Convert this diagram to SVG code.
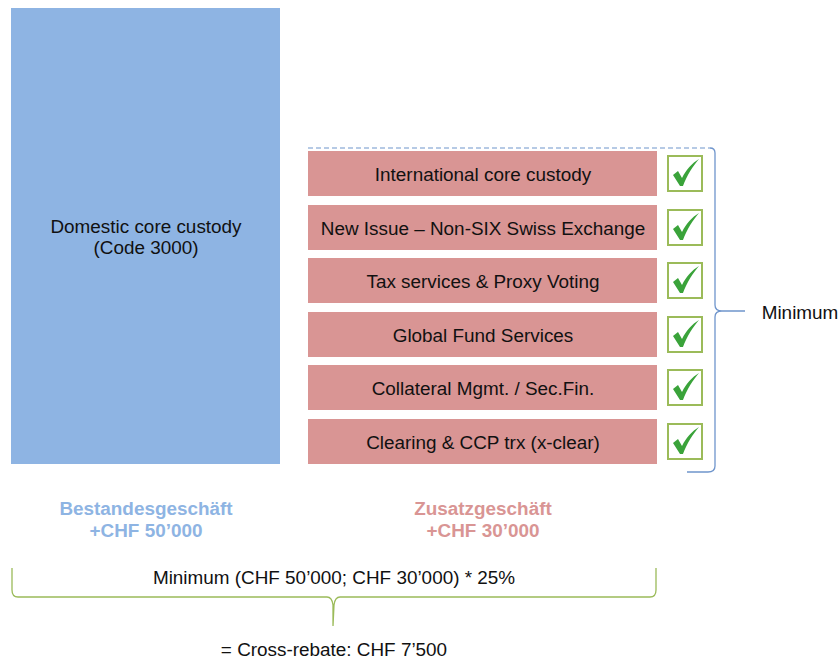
<svg xmlns="http://www.w3.org/2000/svg" width="840" height="661" viewBox="0 0 840 661">
<style>
text{font-family:"Liberation Sans",Arial,sans-serif;font-size:18.9px;fill:#111;text-anchor:middle}
.row{fill:#D99594}
.lbl{dominant-baseline:central}
.chk{fill:#fff;stroke:#9BBB59;stroke-width:2}
.tick{fill:#3AA33A}
.bold{font-weight:bold;font-size:18.9px}
</style>
<defs>
<g id="check">
<rect class="chk" x="0" y="0" width="34" height="35"/>
<path class="tick" d="M5 19 L10 15 L14 22 C18 14 24 7 31 3 C25 10 19 19 15 30 L12 30 Z"/>
</g>
</defs>
<g id="domestic">
<rect x="11" y="8" width="269" height="456" fill="#8EB4E3"/>
<text x="146" y="226" class="lbl">Domestic core custody</text>
<text x="146" y="247" class="lbl">(Code 3000)</text>
</g>
<g id="row1"><rect class="row" x="308" y="151" width="349" height="45"/><text x="483" y="174" class="lbl">International core custody</text><use href="#check" x="668" y="156"/></g>
<g id="row2"><rect class="row" x="308" y="205" width="349" height="45"/><text x="483" y="228" class="lbl">New Issue – Non-SIX Swiss Exchange</text><use href="#check" x="668" y="210"/></g>
<g id="row3"><rect class="row" x="308" y="258" width="349" height="45"/><text x="483" y="281" class="lbl">Tax services &amp; Proxy Voting</text><use href="#check" x="668" y="263"/></g>
<g id="row4"><rect class="row" x="308" y="312" width="349" height="45"/><text x="483" y="335" class="lbl">Global Fund Services</text><use href="#check" x="668" y="317"/></g>
<g id="row5"><rect class="row" x="308" y="365" width="349" height="45"/><text x="483" y="388" class="lbl">Collateral Mgmt. / Sec.Fin.</text><use href="#check" x="668" y="370"/></g>
<g id="row6"><rect class="row" x="308" y="419" width="349" height="45"/><text x="483" y="442" class="lbl">Clearing &amp; CCP trx (x-clear)</text><use href="#check" x="668" y="424"/></g>
<g id="connectors" fill="none">
<path d="M308 148 H710" stroke="#6F95CC" stroke-width="1.2" stroke-dasharray="5 3"/>
<path d="M710 148 Q715 148 715 153 V305 Q715 311 722 311 H745 M722 311 Q715 311 715 317 V466 Q715 472 708 472 H687" stroke="#6F95CC" stroke-width="1.3"/>
<path d="M12 568 V590 Q12 597 18 597 H327 Q332 597 333 605 L333 626 L334 605 Q335 597 340 597 H650 Q656 597 656 590 V568" stroke="#9BBB59" stroke-width="1.3"/>
</g>
<g id="labels">
<text x="800" y="312" class="lbl">Minimum</text>
<text x="146" y="508" class="lbl bold" style="fill:#8EB4E3">Bestandesgeschäft</text>
<text x="146" y="530" class="lbl bold" style="fill:#8EB4E3">+CHF 50’000</text>
<text x="483" y="508" class="lbl bold" style="fill:#D99594">Zusatzgeschäft</text>
<text x="483" y="530" class="lbl bold" style="fill:#D99594">+CHF 30’000</text>
<text x="334" y="577" class="lbl">Minimum (CHF 50’000; CHF 30’000) * 25%</text>
<text x="334" y="649" class="lbl">= Cross-rebate: CHF 7’500</text>
</g>
</svg>
